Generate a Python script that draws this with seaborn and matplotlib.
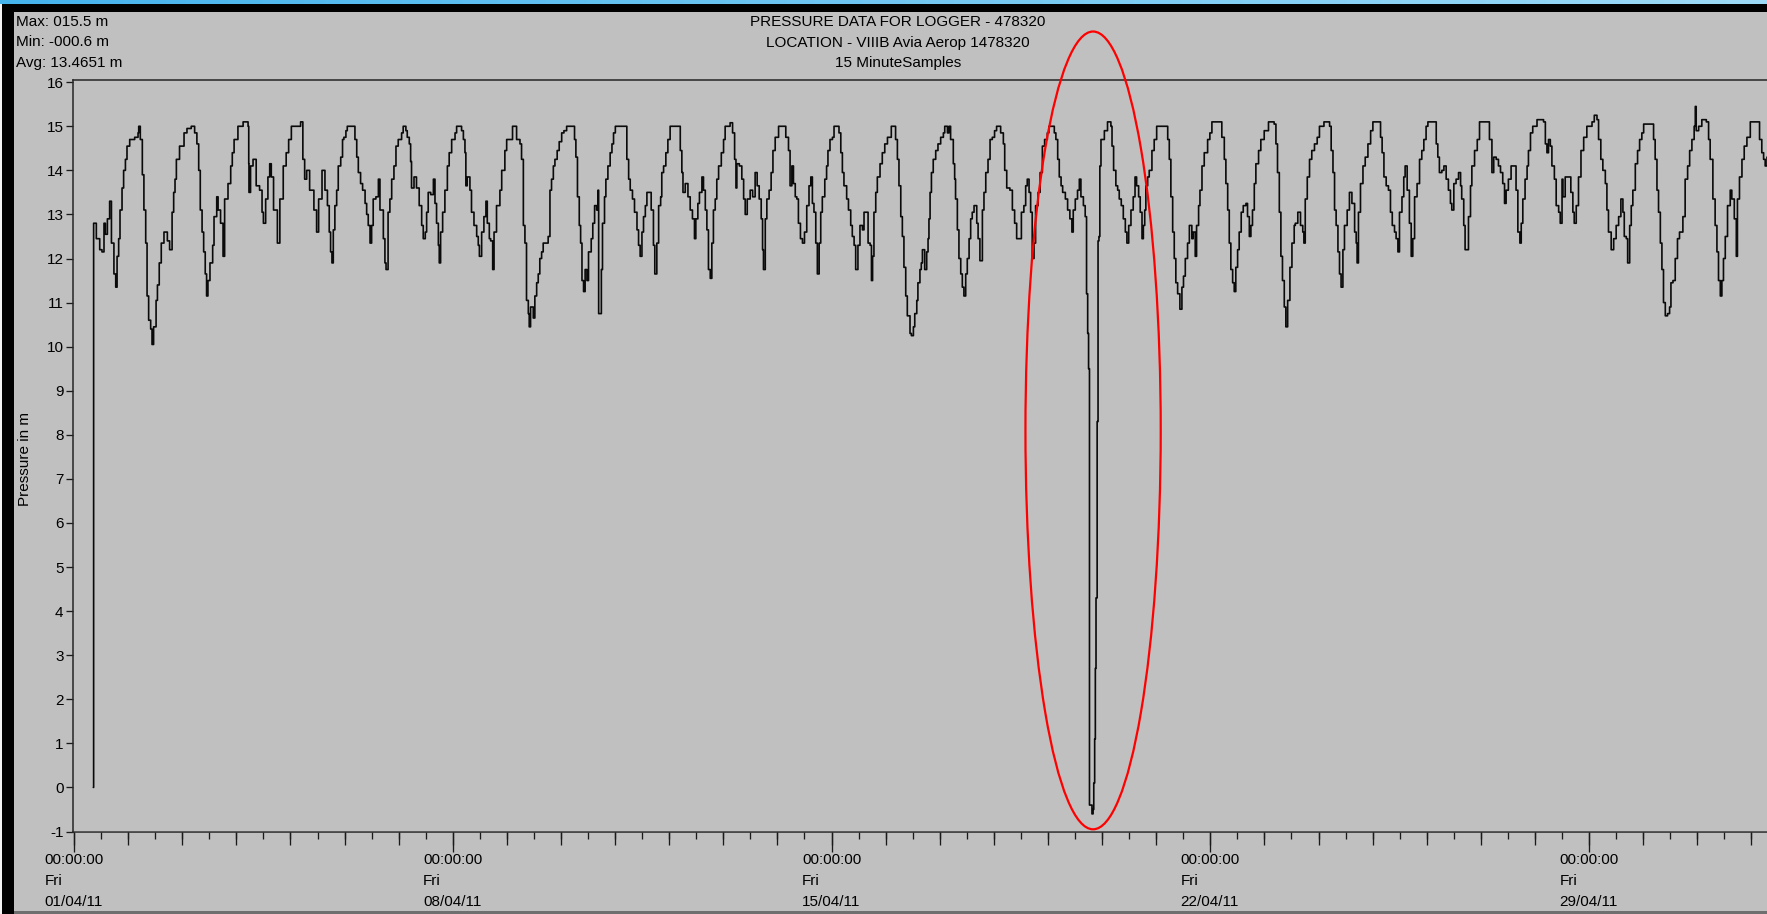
import numpy as np
import pandas as pd
import matplotlib
matplotlib.use("Agg")
import matplotlib.pyplot as plt
import matplotlib.dates as mdates
from matplotlib.ticker import FixedLocator
from matplotlib.patches import Ellipse, Rectangle
from matplotlib.colors import LinearSegmentedColormap
import seaborn as sns

# ---------------- data ----------------
start_time = "2011-04-01 00:00:00"

hours = [
    8.6, 8.7, 9.9, 11.4, 12.4, 13.3, 13.9, 14.8, 15.8, 16.6, 17.7, 18.5, 19.1, 19.8, 20.4, 21.3, 22.0, 22.8, 23.5, 24.7,
    26.9, 28.4, 28.7, 29.4, 30.3, 31.0, 31.8, 32.4, 33.1, 34.0, 34.6, 35.3, 36.4, 37.0, 37.8, 38.7, 39.9, 41.4, 42.4, 43.5,
    44.2, 44.8, 45.4, 46.8, 48.8, 50.1, 52.0, 53.5, 54.5, 55.3, 56.0, 56.8, 57.5, 58.2, 58.8, 59.4, 60.3, 61.5, 62.1, 63.3,
    63.9, 65.0, 66.1, 66.8, 68.3, 69.5, 70.2, 71.0, 72.7, 75.0, 77.2, 77.5, 77.6, 78.3, 79.4, 80.8, 82.3, 83.4, 84.0, 85.0,
    86.0, 86.8, 87.5, 88.5, 90.2, 91.3, 92.8, 94.1, 95.2, 96.4, 100.1, 100.5, 101.5, 102.3, 103.2, 104.5, 106.4, 107.6, 108.5, 110.0,
    111.3, 112.4, 113.2, 113.8, 114.4, 115.0, 115.7, 116.5, 117.2, 118.3, 119.1, 119.7, 120.6, 121.2, 123.9, 124.6, 125.4, 126.1, 127.1, 128.0,
    129.1, 129.8, 130.5, 131.3, 132.0, 132.7, 133.9, 135.0, 135.7, 136.6, 137.2, 137.9, 138.4, 139.3, 140.1, 140.9, 141.9, 142.8, 143.8, 145.3,
    146.0, 147.2, 147.8, 148.7, 149.3, 149.7, 150.8, 151.9, 153.1, 154.2, 154.9, 155.8, 156.4, 157.1, 158.2, 159.4, 160.1, 160.8, 161.6, 162.0,
    162.6, 163.5, 164.5, 165.6, 166.4, 167.5, 169.0, 169.7, 171.9, 172.7, 173.4, 173.8, 174.4, 175.6, 176.3, 177.4, 178.6, 179.3, 179.8, 180.8,
    181.8, 182.7, 183.3, 184.2, 184.8, 185.7, 186.3, 187.4, 188.9, 189.7, 191.1, 191.9, 194.1, 194.5, 195.6, 196.3, 197.8, 198.5, 199.3, 200.0,
    200.7, 201.5, 201.9, 202.5, 203.7, 204.4, 205.2, 205.9, 206.6, 207.4, 208.1, 209.3, 210.3, 211.1, 211.8, 212.6, 213.3, 214.3, 215.2, 216.3,
    217.3, 218.5, 221.6, 222.0, 222.6, 223.3, 224.1, 224.7, 225.3, 226.0, 226.7, 227.5, 228.2, 229.4, 230.1, 230.9, 231.8, 232.4, 232.7, 233.1,
    233.9, 234.4, 235.3, 235.9, 236.8, 237.8, 238.6, 239.3, 240.1, 244.5, 245.2, 246.0, 246.7, 247.7, 248.6, 249.7, 250.4, 251.1, 251.9, 252.6,
    253.4, 254.1, 255.1, 256.0, 257.0, 257.6, 258.5, 259.3, 260.2, 260.7, 261.5, 262.5, 263.4, 264.4, 268.1, 268.9, 269.6, 270.1, 271.1, 272.3,
    273.3, 274.3, 275.2, 275.8, 276.7, 277.4, 278.5, 279.2, 280.0, 280.7, 281.4, 282.2, 282.9, 283.6, 284.4, 285.1, 285.9, 287.1, 288.1, 288.8,
    291.0, 292.1, 293.0, 293.6, 294.0, 295.1, 296.2, 297.0, 297.7, 298.6, 299.9, 301.0, 302.1, 303.0, 303.9, 304.8, 305.4, 305.8, 306.6, 307.3,
    308.3, 309.2, 310.0, 311.0, 312.5, 315.1, 315.7, 316.9, 317.6, 318.4, 319.1, 319.9, 320.6, 321.3, 322.2, 323.1, 324.0, 325.0, 326.0, 326.8,
    327.5, 328.2, 329.0, 329.7, 330.5, 331.2, 331.9, 333.0, 333.8, 334.4, 335.3, 336.4, 337.1, 339.3, 340.1, 340.8, 341.5, 342.7, 343.5, 344.5,
    345.2, 346.0, 346.7, 347.7, 348.6, 349.7, 350.4, 351.6, 352.2, 353.1, 353.7, 354.2, 354.8, 355.6, 356.3, 357.5, 358.5, 359.6, 360.8, 362.5,
    363.4, 364.4, 365.2, 365.9, 366.7, 367.4, 368.1, 368.9, 369.6, 370.8, 371.4, 372.3, 372.9, 373.8, 374.3, 375.2, 375.8, 376.3, 377.3, 378.2,
    378.8, 379.2, 379.7, 380.3, 381.1, 382.2, 383.2, 384.4, 385.6, 386.2, 387.4, 388.1, 388.8, 390.0, 390.6, 391.0, 391.8, 392.5, 393.3, 394.0,
    394.7, 395.5, 396.2, 397.0, 397.7, 398.4, 399.2, 400.4, 401.0, 401.8, 402.9, 403.6, 404.4, 405.4, 406.3, 407.3, 408.3, 409.2, 411.0, 412.2,
    412.8, 413.7, 415.1, 416.2, 417.2, 418.1, 419.6, 420.2, 421.3, 422.1, 422.8, 423.6, 424.3, 425.0, 425.8, 426.5, 427.6, 428.5, 429.5, 430.5,
    431.7, 432.4, 433.8, 434.8, 435.5, 436.3, 437.0, 437.8, 438.5, 439.7, 440.7, 441.7, 442.6, 443.2, 444.1, 445.1, 445.9, 446.6, 447.7, 448.5,
    449.1, 449.6, 450.0, 450.4, 451.5, 452.0, 452.3, 452.7, 453.0, 453.3, 453.8, 454.2, 454.6, 455.0, 455.5, 457.0, 458.4, 459.9, 460.4, 461.1,
    462.1, 462.9, 463.6, 464.5, 465.4, 466.3, 467.0, 467.8, 468.8, 469.8, 470.6, 471.3, 472.2, 472.9, 473.7, 474.3, 474.9, 475.4, 476.2, 476.9,
    478.1, 479.1, 480.2, 484.3, 485.1, 485.8, 486.5, 487.3, 488.0, 488.7, 489.5, 490.5, 491.4, 492.1, 492.9, 493.9, 494.7, 495.8, 496.4, 497.3,
    497.9, 498.8, 499.4, 500.3, 501.3, 502.8, 503.8, 504.7, 508.3, 509.1, 510.2, 510.9, 511.7, 512.4, 513.1, 513.9, 514.6, 515.3, 516.1, 516.8,
    517.7, 518.6, 519.8, 520.5, 521.3, 522.0, 522.7, 523.5, 524.2, 525.4, 526.4, 527.9, 529.8, 532.3, 533.1, 533.8, 534.6, 535.3, 536.0, 536.8,
    537.5, 538.3, 539.3, 540.2, 541.2, 541.7, 542.8, 544.0, 545.0, 545.5, 546.1, 547.0, 548.0, 549.0, 550.2, 551.4, 552.4, 554.4, 556.9, 557.6,
    558.4, 559.1, 559.8, 560.6, 561.3, 562.0, 562.8, 563.5, 564.7, 565.7, 566.8, 568.0, 568.7, 569.1, 569.7, 570.6, 571.7, 572.7, 573.9, 575.1,
    576.1, 578.3, 579.5, 580.2, 581.0, 582.0, 583.0, 583.9, 584.7, 585.7, 586.4, 587.2, 587.9, 589.0, 589.8, 590.4, 591.3, 592.3, 593.1, 593.8,
    594.6, 595.7, 596.8, 597.8, 598.7, 599.7, 600.5, 603.4, 604.2, 604.9, 605.6, 606.7, 607.6, 608.6, 609.6, 610.5, 611.1, 612.0, 613.0, 614.1,
    615.0, 615.5, 616.4, 617.0, 617.9, 618.5, 619.4, 620.0, 621.2, 622.4, 623.4, 627.1, 627.8, 628.9, 629.7, 630.8, 631.8, 632.7, 633.7, 634.5,
    635.2, 636.2, 637.4, 638.6, 639.6, 640.4, 641.3, 641.9, 642.6, 643.6, 644.5, 645.1, 646.0, 647.0, 648.9, 651.8, 652.6, 653.3, 654.0, 654.8,
    655.5, 656.6, 657.4, 658.5, 659.2, 660.0, 660.4, 661.4, 663.4, 663.9, 664.8, 665.4, 666.3, 667.3, 668.4, 669.6, 671.0, 673.3, 674.3, 675.5,
    676.2, 677.2, 678.1, 679.2, 679.9, 680.6, 681.8, 682.9, 684.0, 685.1, 686.1, 687.0, 687.6, 688.5, 689.1, 690.0, 690.7, 691.4, 692.5, 693.5,
    694.4, 695.4, 696.2, 699.9, 700.6, 701.3, 702.1, 702.8, 703.6, 704.3, 705.0, 705.8, 706.8, 707.7, 708.3, 709.2, 710.2, 711.2, 712.1, 713.2,
    713.6, 714.6, 715.7, 716.6, 717.6, 718.6, 719.1, 719.5, 720.6, 722.0, 724.0, 725.0, 725.7, 726.9, 727.9, 728.7, 729.4, 730.2, 730.9, 731.6,
    732.4, 733.4, 734.6, 735.3, 736.4, 737.3, 737.8, 738.7, 739.8, 740.8, 742.0, 743.5, 746.7, 747.6, 748.6, 749.4, 750.1, 750.9, 752.0,
]

pressure = [
    0.0, 12.8, 12.45, 12.2, 12.15, 12.8, 12.55, 12.9, 13.3, 12.35, 11.65, 11.35, 12.05, 12.45, 13.1, 13.6, 14.0, 14.25, 14.55, 14.7,
    14.75, 14.85, 15.0, 14.7, 13.9, 13.1, 12.35, 11.15, 10.6, 10.4, 10.05, 10.45, 11.05, 11.4, 11.9, 12.35, 12.6, 12.4, 12.2, 13.05,
    13.5, 13.8, 14.25, 14.55, 14.85, 14.95, 15.0, 14.85, 14.6, 14.0, 13.1, 12.6, 12.15, 11.65, 11.15, 11.5, 11.9, 12.3, 12.95, 13.4,
    13.1, 12.8, 12.05, 13.35, 13.7, 14.1, 14.4, 14.7, 15.0, 15.1, 15.0, 14.15, 13.5, 14.1, 14.25, 13.65, 13.55, 13.05, 12.8, 13.35,
    13.85, 14.15, 13.85, 13.1, 12.35, 13.35, 14.1, 14.4, 14.7, 15.0, 15.0, 15.1, 14.25, 13.8, 14.0, 13.55, 13.1, 12.6, 13.35, 14.0,
    13.55, 13.2, 12.6, 12.15, 11.9, 12.65, 13.2, 13.55, 14.1, 14.3, 14.7, 14.75, 14.9, 15.0, 15.0, 14.7, 14.3, 13.95, 13.7, 13.55,
    13.25, 13.0, 12.75, 12.35, 12.75, 13.35, 13.4, 13.8, 13.1, 13.1, 12.45, 11.9, 11.75, 13.05, 13.35, 13.8, 14.1, 14.55, 14.7, 14.85,
    15.0, 14.9, 14.75, 14.6, 14.2, 13.6, 13.85, 13.6, 13.2, 12.75, 12.45, 12.6, 13.05, 13.5, 13.45, 13.8, 13.25, 12.8, 12.3, 11.9,
    12.6, 13.05, 13.55, 14.1, 14.4, 14.7, 14.85, 15.0, 14.9, 14.7, 14.4, 13.65, 13.85, 13.55, 13.05, 12.75, 12.5, 12.3, 12.05, 12.6,
    12.95, 13.3, 12.8, 12.45, 12.4, 11.75, 12.6, 13.2, 13.55, 14.0, 14.45, 14.7, 14.7, 15.0, 15.0, 14.7, 14.6, 14.25, 12.75, 12.35,
    11.05, 10.75, 10.45, 10.9, 10.65, 11.15, 11.45, 11.65, 12.0, 12.15, 12.35, 12.35, 12.5, 13.55, 13.8, 14.1, 14.25, 14.45, 14.65, 14.85,
    14.9, 15.0, 15.0, 14.7, 14.3, 13.4, 12.75, 12.35, 11.5, 11.25, 11.75, 11.5, 12.15, 12.45, 12.8, 13.2, 13.1, 13.55, 10.75, 10.75,
    11.75, 12.8, 13.4, 13.8, 14.1, 14.4, 14.6, 14.85, 15.0, 15.0, 14.25, 13.8, 13.55, 13.35, 13.05, 12.65, 12.3, 12.05, 12.6, 12.95,
    13.2, 13.5, 13.5, 13.1, 12.3, 11.65, 12.35, 13.2, 13.4, 13.95, 14.1, 14.4, 14.7, 15.0, 15.0, 14.45, 13.95, 13.5, 13.7, 13.4,
    13.1, 12.9, 12.45, 12.9, 13.25, 13.5, 13.85, 13.55, 13.1, 12.65, 11.75, 11.55, 12.35, 13.1, 13.35, 13.8, 14.1, 14.4, 14.7, 15.0,
    15.08, 14.85, 14.25, 13.6, 14.15, 14.1, 13.8, 13.35, 13.0, 13.35, 13.55, 13.4, 13.95, 13.65, 13.35, 12.9, 12.2, 11.75, 12.9, 13.35,
    13.55, 13.95, 14.45, 14.75, 15.0, 15.0, 14.75, 14.45, 13.65, 14.1, 13.7, 13.4, 13.35, 12.8, 12.45, 12.35, 12.6, 13.2, 13.65, 13.85,
    13.25, 13.05, 12.35, 11.65, 12.35, 13.05, 13.4, 13.8, 14.1, 14.45, 14.7, 14.75, 15.0, 14.85, 14.4, 13.95, 13.65, 13.35, 13.1, 12.75,
    12.5, 12.3, 11.75, 12.3, 12.75, 12.65, 13.05, 13.05, 12.35, 12.3, 11.5, 12.05, 13.05, 13.5, 13.85, 14.15, 14.4, 14.6, 14.75, 15.0,
    15.0, 14.7, 14.25, 13.65, 12.95, 12.5, 11.8, 11.15, 10.7, 10.3, 10.25, 10.45, 10.75, 11.05, 11.45, 11.75, 11.9, 12.2, 11.75, 12.15,
    12.45, 12.9, 13.5, 13.95, 14.25, 14.45, 14.6, 14.75, 14.85, 15.0, 14.85, 15.0, 14.7, 14.15, 13.8, 13.35, 12.65, 12.0, 11.65, 11.35,
    11.15, 11.65, 12.0, 12.45, 12.9, 13.05, 13.2, 12.8, 12.45, 11.95, 13.1, 13.5, 13.95, 14.25, 14.7, 14.75, 14.9, 15.0, 14.85, 14.6,
    14.0, 13.6, 13.55, 13.1, 12.8, 12.45, 12.45, 13.05, 13.2, 13.65, 13.8, 13.5, 13.05, 12.0, 12.35, 13.2, 13.5, 13.95, 14.55, 14.7,
    14.85, 15.0, 15.0, 14.85, 14.7, 14.25, 13.85, 13.65, 13.5, 13.35, 13.1, 12.9, 12.6, 13.1, 13.35, 13.55, 13.8, 13.4, 13.2, 12.95,
    11.2, 10.3, 9.5, -0.4, -0.6, -0.5, 0.1, 1.1, 2.7, 4.3, 8.3, 12.4, 12.5, 14.1, 14.7, 14.9, 15.1, 15.0, 14.55, 14.0,
    13.65, 13.55, 13.35, 13.2, 12.9, 12.6, 12.35, 12.75, 13.1, 13.4, 13.85, 13.65, 13.4, 13.05, 12.45, 12.75, 13.1, 13.65, 13.85, 14.0,
    14.45, 14.7, 15.0, 15.0, 14.7, 14.25, 13.4, 12.6, 12.0, 11.45, 11.2, 10.85, 11.35, 11.6, 12.0, 12.35, 12.75, 12.45, 12.6, 12.05,
    12.75, 13.2, 13.55, 14.1, 14.4, 14.7, 14.85, 15.1, 15.1, 14.75, 14.25, 13.7, 13.1, 12.35, 11.75, 11.45, 11.25, 11.8, 12.2, 12.6,
    13.05, 13.2, 13.25, 12.95, 12.5, 12.75, 13.1, 13.7, 14.15, 14.45, 14.7, 14.9, 15.1, 15.05, 14.6, 13.95, 13.05, 12.05, 11.5, 10.9,
    10.45, 11.05, 11.8, 12.35, 12.75, 12.8, 13.05, 12.75, 12.6, 12.35, 13.35, 13.85, 14.25, 14.45, 14.6, 14.75, 15.0, 15.1, 15.0, 14.45,
    13.95, 13.1, 12.75, 12.15, 11.65, 11.35, 12.2, 12.75, 13.1, 13.5, 13.25, 12.6, 12.35, 11.9, 13.05, 13.7, 14.1, 14.3, 14.6, 14.9,
    15.1, 15.1, 14.75, 14.4, 13.85, 13.65, 13.55, 13.05, 12.75, 12.6, 12.45, 12.15, 13.05, 13.4, 13.85, 14.1, 13.55, 12.8, 12.05, 12.45,
    13.4, 13.7, 14.25, 14.45, 14.7, 15.0, 15.1, 15.1, 14.6, 14.3, 13.95, 14.0, 14.1, 13.8, 13.55, 13.25, 13.1, 13.7, 13.8, 13.95,
    13.65, 13.35, 12.75, 12.2, 12.2, 12.95, 13.65, 14.1, 14.45, 14.7, 15.1, 15.1, 14.7, 13.95, 14.3, 14.25, 14.1, 13.95, 13.7, 13.25,
    13.55, 13.8, 14.1, 14.1, 13.55, 12.6, 12.35, 12.8, 13.35, 13.8, 14.1, 14.45, 14.85, 15.0, 15.15, 15.1, 14.6, 14.4, 14.7, 14.55,
    14.1, 13.8, 13.2, 13.05, 12.8, 13.8, 13.4, 13.85, 13.85, 13.5, 13.05, 12.8, 13.2, 13.85, 14.45, 14.75, 15.0, 15.1, 15.25, 15.15,
    14.7, 14.25, 14.0, 13.7, 13.1, 12.6, 12.2, 12.45, 12.75, 12.95, 13.35, 13.05, 12.5, 12.45, 11.9, 12.75, 13.2, 13.55, 14.15, 14.45,
    14.7, 14.85, 15.05, 15.05, 14.7, 14.25, 13.55, 13.05, 12.35, 11.75, 11.0, 10.7, 10.75, 10.9, 11.45, 11.5, 12.0, 12.45, 12.6, 12.6,
    12.95, 13.8, 14.1, 14.45, 14.7, 15.0, 15.45, 14.9, 15.0, 15.15, 15.1, 14.7, 14.25, 13.35, 12.75, 12.15, 11.5, 11.15, 11.5, 12.0,
    12.5, 13.2, 13.55, 13.35, 12.9, 12.05, 13.35, 13.85, 14.25, 14.55, 14.75, 15.1, 15.1, 14.7, 14.4, 14.25, 14.1, 14.3, 14.1,
]

y_ticks = list(range(-1, 17))
week_days = [0, 7, 14, 21, 28]            # labelled ticks (days after start)
stats_lines = ["Max: 015.5 m", "Min: -000.6 m", "Avg: 13.4651 m"]
title_lines = ["PRESSURE DATA FOR LOGGER - 478320",
               "LOCATION - VIIIB Avia Aerop 1478320",
               "15 MinuteSamples"]
y_label = "Pressure in m"

# highlight ellipse around the pressure drop (annotation)
highlight_center_hours = 452.0
highlight_center_value = 8.1
highlight_width_hours = 60.0
highlight_height_value = 18.1

# ---------------- figure ----------------
W, H, DPI = 1767, 914, 100
GRAY = "#C0C0C0"
sns.set_theme(style="white")
plt.rcParams["font.family"] = ["Liberation Sans", "DejaVu Sans"]
plt.rcParams["font.size"] = 11
plt.rcParams["text.color"] = "black"

fig = plt.figure(figsize=(W / DPI, H / DPI), dpi=DPI, facecolor=GRAY)


def fx(px):
    return px / W


def fy(py):
    return 1 - py / H


def frame_rect(x0, y0, x1, y1, color, z=10):
    fig.patches.append(Rectangle((fx(x0), fy(y1)), fx(x1 - x0), (y1 - y0) / H,
                                 transform=fig.transFigure, facecolor=color,
                                 edgecolor="none", zorder=z))


# window chrome
frame_rect(0, 0, W, 914, "#f2f2f2", z=-5)
frame_rect(2, 4, W, 914, GRAY, z=-4)
frame_rect(2, 4, W, 12, "#000000")
frame_rect(2, 4, 14, 914, "#000000")
frame_rect(14, 911, W, 914, "#6f6f6f")
gax = fig.add_axes([0, fy(4), 1, 4 / H])
gax.imshow(np.linspace(0, 1, 256)[None, :], aspect="auto",
           cmap=LinearSegmentedColormap.from_list("bar", ["#45b3ec", "#9ddaf7"]))
gax.set_axis_off()

# plot axes
ax_left, ax_top, ax_bottom = 73, 80, 831.5
ax = fig.add_axes([fx(ax_left), fy(ax_bottom), 1 - fx(ax_left), (ax_bottom - ax_top) / H])
ax.set_facecolor(GRAY)

t0 = pd.Timestamp(start_time)
times = t0 + pd.to_timedelta(np.array(hours), unit="h")
df = pd.DataFrame({"time": times, "pressure": pressure})

sns.lineplot(data=df, x="time", y="pressure", ax=ax, color="#0a0a0a",
             linewidth=1.2, drawstyle="steps-post", estimator=None, sort=False)

px_per_day = 54.11
x_lo = t0 - pd.Timedelta(hours=0.45)
x_hi = x_lo + pd.Timedelta(days=(W - ax_left) / px_per_day)
ax.set_xlim(x_lo, x_hi)
ax.set_ylim(-1, 16.05)

for s in ["left", "top", "bottom"]:
    ax.spines[s].set_visible(True)
    ax.spines[s].set_color("#262626")
    ax.spines[s].set_linewidth(1.1)
ax.spines["right"].set_visible(False)

# y ticks
ax.set_yticks(y_ticks)
ax.set_yticklabels([str(v) for v in y_ticks])
ax.tick_params(axis="y", left=True, direction="out", length=5, width=0.95,
               color="#1a1a1a", pad=1.8, labelsize=11, labelcolor="black")
ax.set_ylabel("")
ax.set_xlabel("")

# x ticks: weekly (labelled), 12-hourly minor, daily via secondary axis
week_nums = mdates.date2num([t0 + pd.Timedelta(days=d) for d in week_days])
half_days = mdates.date2num(list(pd.date_range(t0, x_hi, freq="12h")))
full_days = mdates.date2num(list(pd.date_range(t0, x_hi, freq="24h")))
ax.xaxis.set_major_locator(FixedLocator(week_nums))
ax.xaxis.set_major_formatter(mdates.DateFormatter("%H:%M:%S\n%a\n%d/%m/%y"))
ax.xaxis.set_minor_locator(FixedLocator(half_days))
ax.tick_params(axis="x", which="major", bottom=True, direction="out", length=14.4,
               width=0.95, color="#1a1a1a", pad=1.0, labelsize=11, labelcolor="black")
ax.tick_params(axis="x", which="minor", bottom=True, direction="out", length=4.8,
               width=0.95, color="#1a1a1a")
for lab in ax.get_xticklabels():
    lab.set_multialignment("left")
    lab.set_linespacing(1.62)

sec = ax.secondary_xaxis("bottom")
sec.set_xticks(full_days)
sec.tick_params(axis="x", which="major", bottom=True, direction="out", length=9.4,
                width=0.95, color="#1a1a1a", labelbottom=False)
sec.tick_params(axis="x", which="minor", bottom=False)
for s in sec.spines.values():
    s.set_visible(False)

# highlight ellipse
ell = Ellipse((mdates.date2num(t0 + pd.Timedelta(hours=highlight_center_hours)), highlight_center_value),
              width=highlight_width_hours / 24.0, height=highlight_height_value,
              fill=False, edgecolor="#ff0000", linewidth=1.6, clip_on=False, zorder=5)
ax.add_patch(ell)

# header texts
for i, line in enumerate(stats_lines):
    fig.text(fx(15.5), fy(26.5 + 20 * i), line, ha="left", va="baseline",
             fontsize=11, color="black")
for i, line in enumerate(title_lines):
    fig.text(fx(898), fy(26.5 + 20.5 * i), line, ha="center", va="baseline",
             fontsize=11, color="black")
fig.text(fx(25), fy(459), y_label, rotation=90, ha="center", va="center",
         fontsize=11, color="black")

fig.savefig("out.png", dpi=DPI, facecolor=fig.get_facecolor())
